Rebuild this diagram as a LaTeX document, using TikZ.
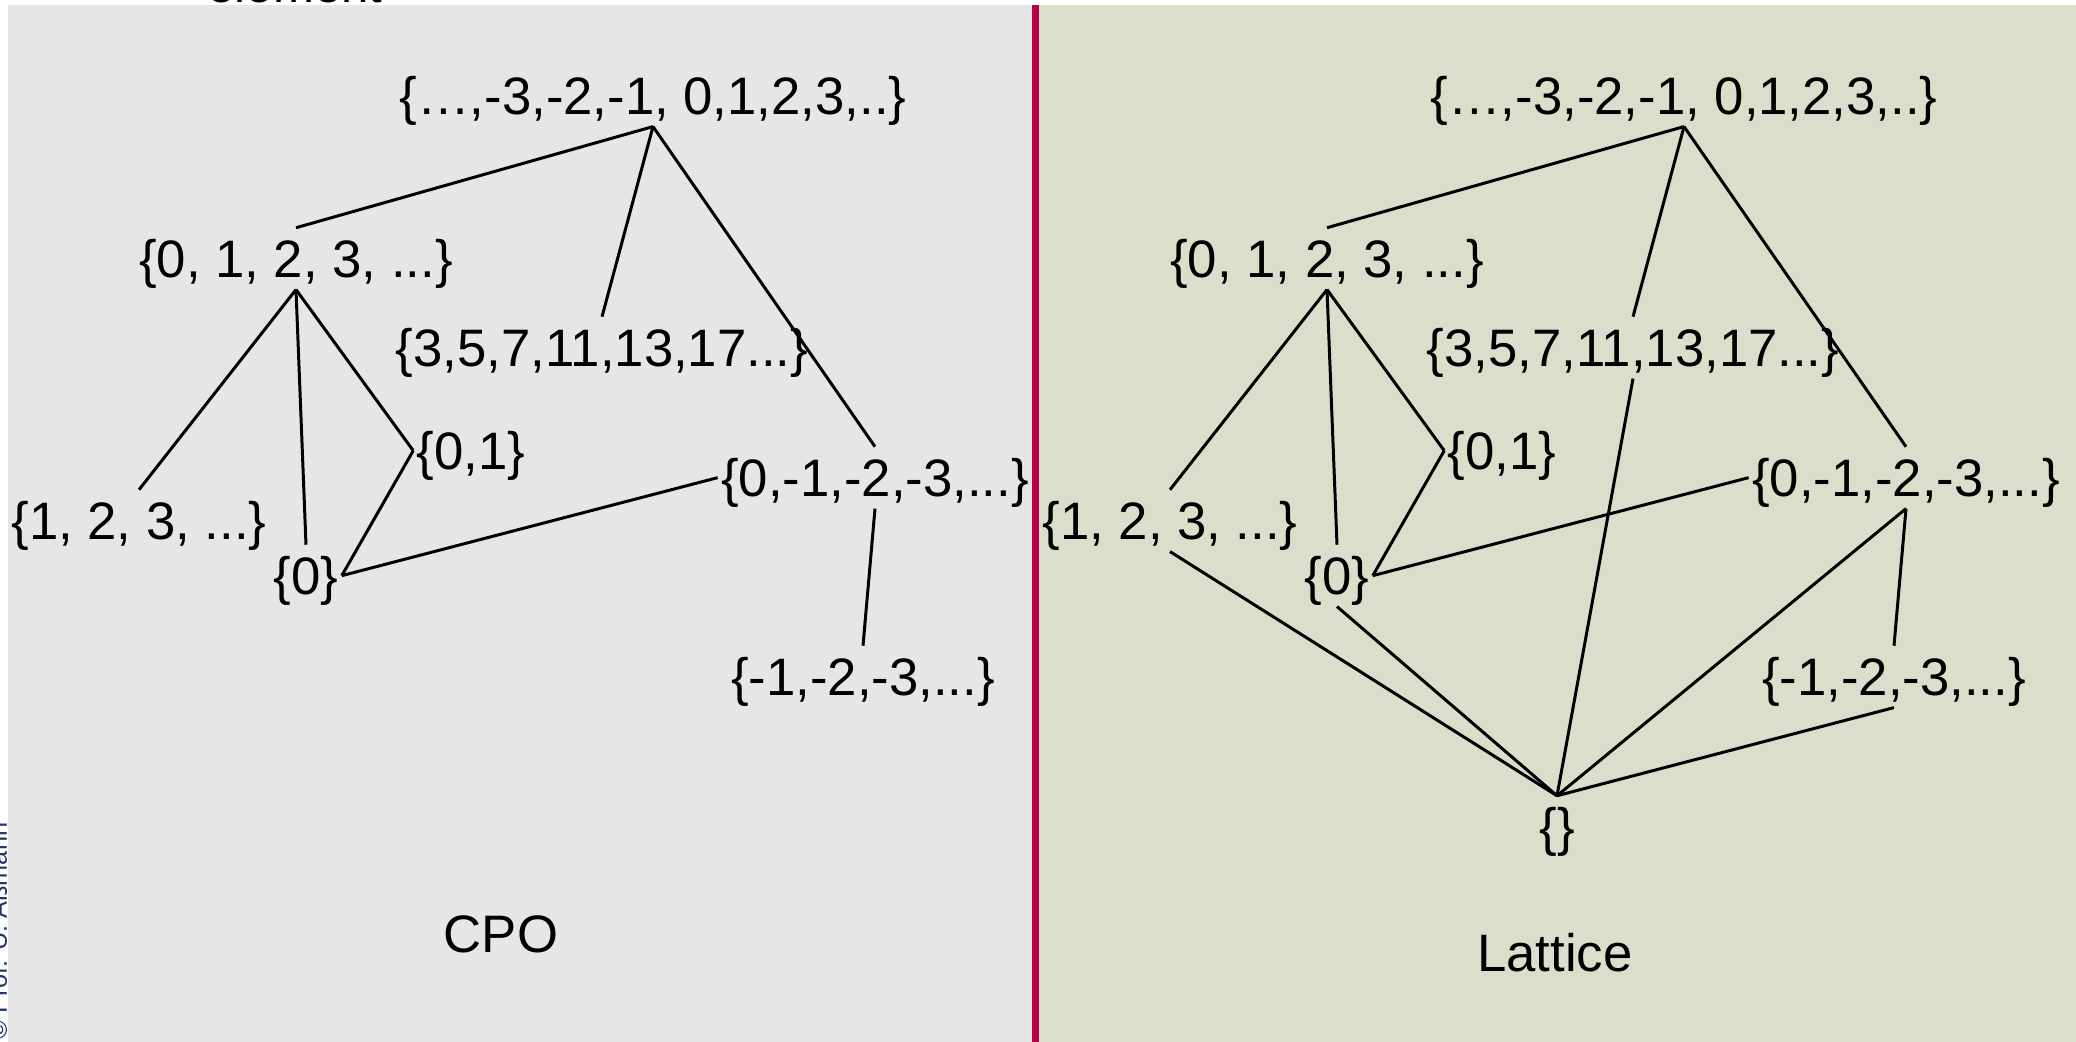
\documentclass[tikz,border=0pt]{standalone}
\usepackage{fontspec}
\setmainfont{Liberation Sans}
\definecolor{cpogray}{RGB}{230, 230, 230}
\definecolor{latticetan}{RGB}{221, 221, 204}
\definecolor{slidered}{RGB}{184, 0, 74}
\definecolor{copyblue}{RGB}{30, 55, 105}
\tikzset{
	setnode/.style={anchor=base, inner xsep=1pt, inner ysep=0pt, outer sep=0pt, text height=14.3pt, text depth=3.3pt, font=\fontsize{15}{18}\selectfont},
	caption/.style={inner sep=0pt, font=\fontsize{15}{18}\selectfont},
	order/.style={line width=0.85pt, draw=black},
}

\begin{document}
\begin{tikzpicture}[x=0.1mm, y=-0.1mm]
		\useasboundingbox (0,0) rectangle (2076,1042);
		% slide background
		\fill[cpogray] (8,5) rectangle (1032,1042);
		\fill[latticetan] (1039,5) rectangle (2076,1042);
		\fill[slidered] (1032,5) rectangle (1039,1042);
		\node[anchor=base, inner sep=0pt, font=\fontsize{14}{17}\selectfont] (title) at (295,3) {element};
		\node[rotate=90, anchor=base west, inner sep=0pt, text=copyblue, font=\fontsize{7.2}{9}\selectfont] (copy) at (7,1040) {© Prof. U. Aßmann};
		% CPO
		\node[setnode] (topL) at (653,115) {\{…,-3,-2,-1, 0,1,2,3,..\}};
		\node[setnode] (natL) at (296,278) {\{0, 1, 2, 3, ...\}};
		\node[setnode] (primeL) at (602,367) {\{3,5,7,11,13,17...\}};
		\node[setnode] (binL) at (471,470) {\{0,1\}};
		\node[setnode] (posL) at (139,540) {\{1, 2, 3, ...\}};
		\node[setnode] (zeroL) at (306,595) {\{0\}};
		\node[setnode] (negzL) at (875,497) {\{0,-1,-2,-3,...\}};
		\node[setnode] (negL) at (863,696) {\{-1,-2,-3,...\}};
		\node[caption] (cpo) at (501,934) {CPO};
		\draw[order] (topL.south) -- (natL.north);
		\draw[order] (topL.south) -- (primeL.north);
		\draw[order] (topL.south) -- (negzL.north);
		\draw[order] (natL.south) -- (posL.north);
		\draw[order] (natL.south) -- (zeroL.north);
		\draw[order] (natL.south) -- (binL.west);
		\draw[order] (binL.west) -- (zeroL.east);
		\draw[order] (zeroL.east) -- (negzL.west);
		\draw[order] (negzL.south) -- (negL.north);
		% Lattice
		\node[setnode] (topR) at (1684,115) {\{…,-3,-2,-1, 0,1,2,3,..\}};
		\node[setnode] (natR) at (1327,278) {\{0, 1, 2, 3, ...\}};
		\node[setnode] (primeR) at (1633,367) {\{3,5,7,11,13,17...\}};
		\node[setnode] (binR) at (1502,470) {\{0,1\}};
		\node[setnode] (posR) at (1170,540) {\{1, 2, 3, ...\}};
		\node[setnode] (zeroR) at (1337,595) {\{0\}};
		\node[setnode] (negzR) at (1906,497) {\{0,-1,-2,-3,...\}};
		\node[setnode] (negR) at (1894,696) {\{-1,-2,-3,...\}};
		\node[setnode] (emptyR) at (1557,846) {\{\}};
		\node[caption] (lattice) at (1555,953) {Lattice};
		\draw[order] (topR.south) -- (natR.north);
		\draw[order] (topR.south) -- (primeR.north);
		\draw[order] (topR.south) -- (negzR.north);
		\draw[order] (natR.south) -- (posR.north);
		\draw[order] (natR.south) -- (zeroR.north);
		\draw[order] (natR.south) -- (binR.west);
		\draw[order] (binR.west) -- (zeroR.east);
		\draw[order] (zeroR.east) -- (negzR.west);
		\draw[order] (negzR.south) -- (negR.north);
		\draw[order] (primeR.south) -- (emptyR.north);
		\draw[order] (posR.south) -- (emptyR.north);
		\draw[order] (zeroR.south) -- (emptyR.north);
		\draw[order] (negzR.south) -- (emptyR.north);
		\draw[order] (negR.south) -- (emptyR.north);
	\end{tikzpicture}
\end{document}
